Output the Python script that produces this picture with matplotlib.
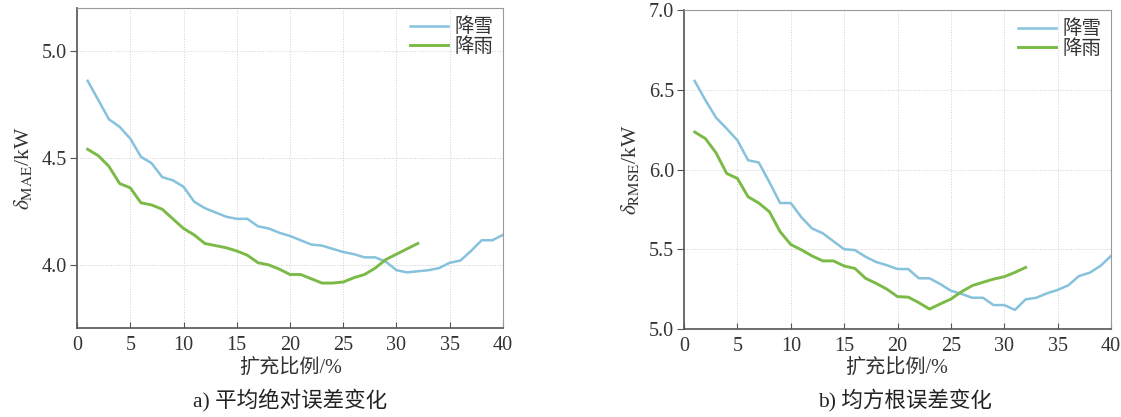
import matplotlib
matplotlib.use('Agg')
import matplotlib.pyplot as plt
import numpy as np

plt.rcParams['font.family'] = ['Liberation Serif', 'Noto Sans CJK SC', 'DejaVu Sans']
plt.rcParams['mathtext.fontset'] = 'stix'

# expansion ratio (%)
snow_x = np.arange(1, 41)
rain_x = np.arange(1, 33)

# mean absolute error, kW
mae_snow = [4.86, 4.77, 4.68, 4.645, 4.59, 4.505, 4.475, 4.41, 4.395, 4.365,
            4.295, 4.265, 4.245, 4.225, 4.215, 4.215, 4.18, 4.17, 4.15, 4.135,
            4.115, 4.095, 4.09, 4.075, 4.06, 4.05, 4.035, 4.035, 4.015, 3.975,
            3.965, 3.97, 3.975, 3.985, 4.01, 4.02, 4.065, 4.115, 4.115, 4.14]
mae_rain = [4.54, 4.51, 4.46, 4.38, 4.36, 4.29, 4.28, 4.26, 4.215, 4.17,
            4.14, 4.10, 4.09, 4.08, 4.065, 4.045, 4.01, 4.0, 3.98, 3.955,
            3.955, 3.935, 3.915, 3.915, 3.92, 3.94, 3.955, 3.985, 4.025, 4.05,
            4.075, 4.10]

# root mean square error, kW
rmse_snow = [6.555, 6.435, 6.325, 6.256, 6.183, 6.058, 6.044, 5.92, 5.79, 5.79,
             5.70, 5.63, 5.60, 5.55, 5.50, 5.495, 5.453, 5.42, 5.40, 5.376,
             5.376, 5.318, 5.318, 5.282, 5.24, 5.22, 5.196, 5.196, 5.15, 5.15,
             5.12, 5.186, 5.196, 5.224, 5.245, 5.274, 5.332, 5.353, 5.395, 5.458]
rmse_rain = [6.235, 6.194, 6.104, 5.975, 5.944, 5.829, 5.79, 5.735, 5.61, 5.53,
             5.496, 5.458, 5.427, 5.427, 5.395, 5.38, 5.318, 5.286, 5.25, 5.203,
             5.20, 5.165, 5.125, 5.157, 5.188, 5.234, 5.272, 5.293, 5.313, 5.328,
             5.355, 5.386]

snow_color = '#86c2dc'
rain_color = '#7cba48'
cjk = ['Liberation Serif', 'Noto Sans CJK SC']

fig = plt.figure(figsize=(11.21, 4.17), dpi=100)
ax1 = fig.add_axes([0.0687, 0.2134, 0.380, 0.7674])
ax2 = fig.add_axes([0.6102, 0.211, 0.3809, 0.765])


def style_axes(ax, ylim, yticks):
    ax.set_xlim(0, 40)
    ax.set_ylim(*ylim)
    ax.set_xticks(np.arange(0, 41, 5))
    ax.set_yticks(yticks)
    ax.set_yticklabels(['%.1f' % v for v in yticks])
    ax.grid(True, linestyle=':', linewidth=0.7, color='#cfcfcf')
    ax.set_axisbelow(True)
    for side in ('left', 'bottom'):
        ax.spines[side].set_color('#555555')
        ax.spines[side].set_linewidth(1.2)
    for side in ('top', 'right'):
        ax.spines[side].set_color('#9a9a9a')
        ax.spines[side].set_linewidth(0.8)
    ax.tick_params(axis='x', direction='in', length=4, color='#555555',
                   labelsize=14.5, pad=6, labelcolor='#333333')
    ax.tick_params(axis='y', direction='out', length=5, color='#555555',
                   labelsize=14.5, pad=2, labelcolor='#333333')
    leg = ax.legend(loc='upper right', frameon=False, handlelength=2.0,
                    handletextpad=0.3, labelspacing=0.05, borderaxespad=0.1,
                    prop={'family': cjk, 'size': 14})
    for t in leg.get_texts():
        t.set_color('#333333')


ax1.plot(snow_x, mae_snow, color=snow_color, lw=1.8, label='降雪')
ax1.plot(rain_x, mae_rain, color=rain_color, lw=2.1, label='降雨')
style_axes(ax1, (3.705, 5.2), [4.0, 4.5, 5.0])
ax1.set_ylabel(r'$\delta_{\rm MAE}$/kW', fontsize=15.5, color='#333333', labelpad=6)

ax2.plot(snow_x, rmse_snow, color=snow_color, lw=1.8, label='降雪')
ax2.plot(rain_x, rmse_rain, color=rain_color, lw=2.1, label='降雨')
style_axes(ax2, (5.0, 7.0), [5.0, 5.5, 6.0, 6.5, 7.0])
ax2.set_ylabel(r'$\delta_{\rm RMSE}$/kW', fontsize=15.5, color='#333333', labelpad=6)

# axis titles and panel captions
fig.text(0.259, 0.118, '扩充比例/%', ha='center', va='center',
         family=cjk, fontsize=14.5, color='#333333')
fig.text(0.259, 0.04, 'a) 平均绝对误差变化', ha='center', va='center',
         family=cjk, fontsize=15.5, color='#222222')
fig.text(0.800, 0.118, '扩充比例/%', ha='center', va='center',
         family=cjk, fontsize=14.5, color='#333333')
fig.text(0.807, 0.04, 'b) 均方根误差变化', ha='center', va='center',
         family=cjk, fontsize=15.5, color='#222222')

fig.savefig('out.png', dpi=100, facecolor='white')
